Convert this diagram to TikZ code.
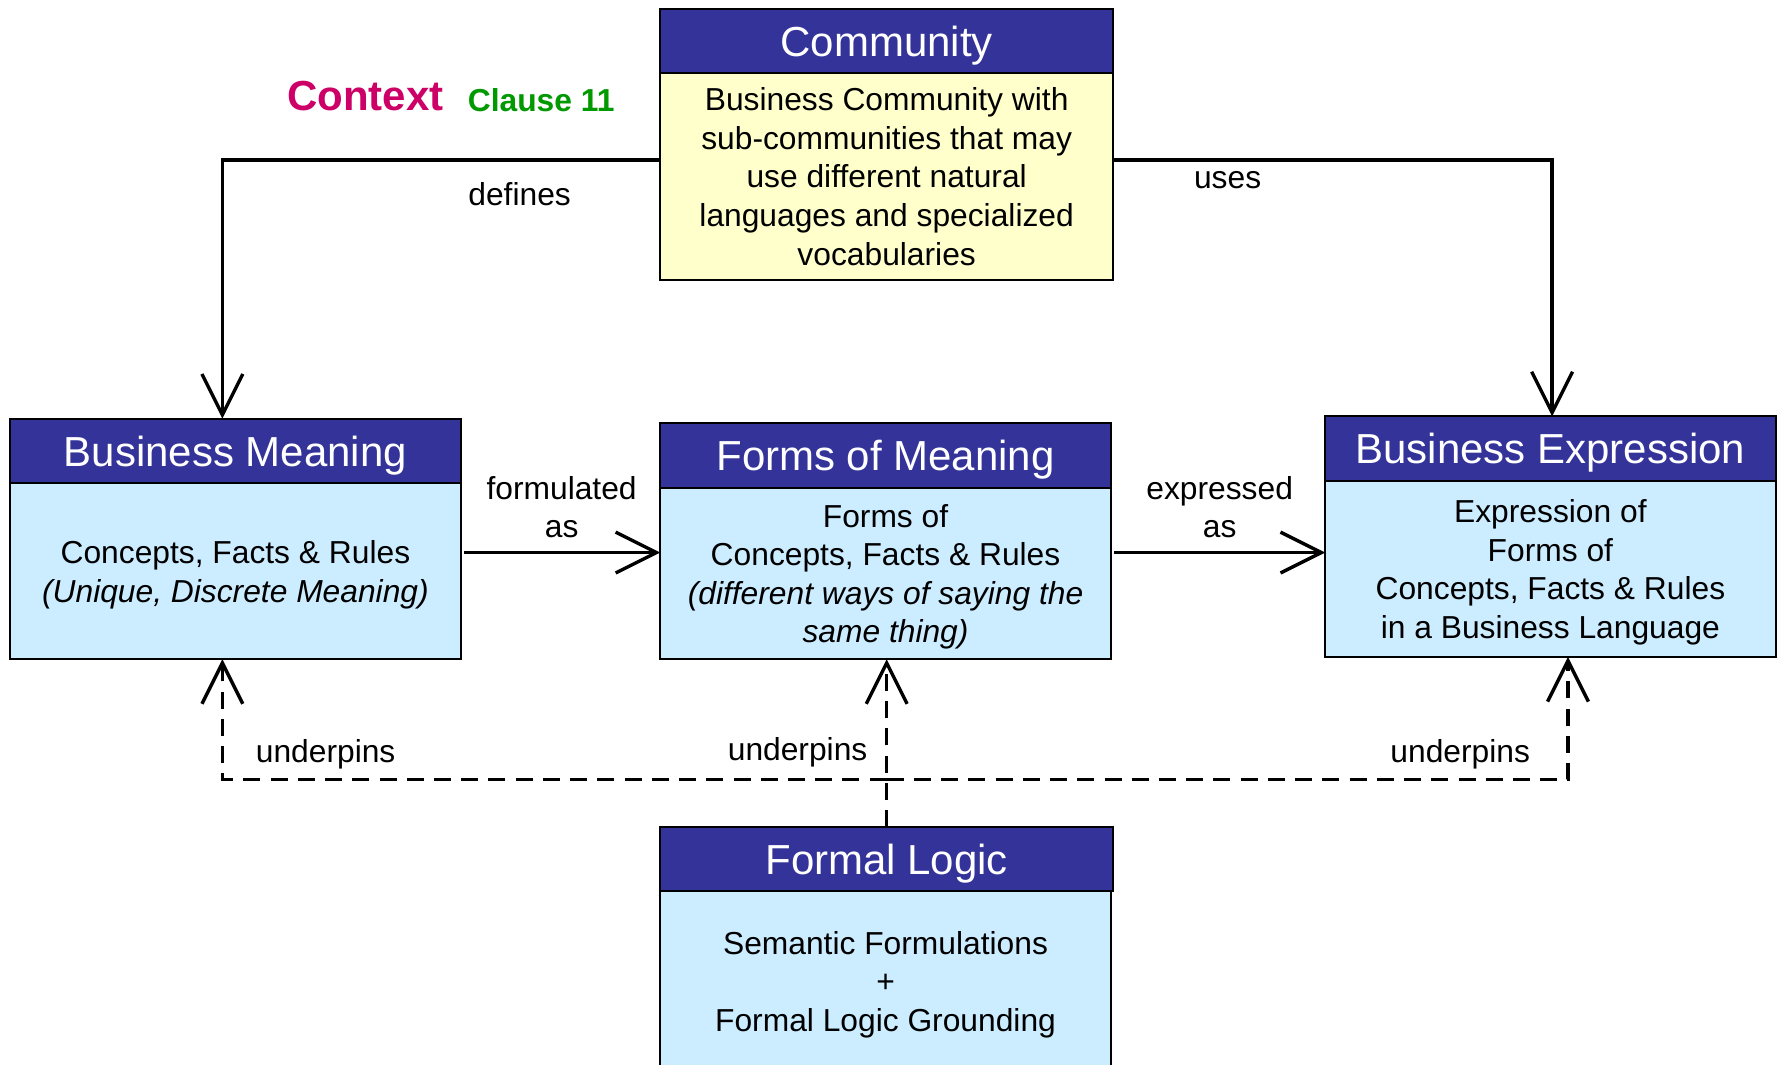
\documentclass[tikz,border=0pt]{standalone}
\usepackage{fontspec}
\setmainfont{Liberation Sans}
\usetikzlibrary{arrows.meta,calc}
\definecolor{hdr}{HTML}{333399}
\definecolor{bodyblue}{HTML}{CCECFF}
\definecolor{bodyyellow}{HTML}{FFFFCC}
\definecolor{ctx}{HTML}{CC0066}
\definecolor{clause}{HTML}{009900}
\newcommand\myhdrfont{\fontsize{37}{44}\selectfont}
\newcommand\mybodyfont{\fontsize{28}{34}\selectfont}
\begin{document}
\begin{tikzpicture}[x=1pt,y=-1pt,
  hdrbox/.style={draw=black,line width=1.8pt,fill=hdr,text=white,font=\myhdrfont,anchor=north west,inner sep=0pt,outer sep=0pt,text depth=0pt},
  bodybox/.style={draw=black,line width=1.8pt,fill=bodyblue,font=\mybodyfont,align=center,anchor=north west,inner sep=0pt,outer sep=0pt,text depth=0pt},
  lbl/.style={font=\mybodyfont,align=center,inner sep=0pt},
  conn/.style={line width=3pt,-{Straight Barb[length=36pt,width=36pt]}},
  dconn/.style={line width=3pt,dash pattern=on 15pt off 9pt,-{Straight Barb[length=36pt,width=36pt]}}]
\path[use as bounding box,clip] (0,0) rectangle (1568,938);
\fill[white] (0,0) rectangle (1568,938);

% Community
\node[bodybox,fill=bodyyellow,minimum width=399pt,minimum height=183pt] (cB) at (582,64)
  {Business Community with\\sub-communities that may\\use different natural\\languages and specialized\\vocabularies};
\node[hdrbox,minimum width=399pt,minimum height=56pt] (cH) at (582,8) {Community};

% Business Meaning
\node[bodybox,minimum width=397pt,minimum height=155pt] (bmB) at (9,426)
  {Concepts, Facts \& Rules\\\textit{(Unique, Discrete Meaning)}};
\node[hdrbox,minimum width=397pt,minimum height=57pt] (bmH) at (9,369) {Business Meaning};

% Forms of Meaning
\node[bodybox,minimum width=397pt,minimum height=151pt] (fmB) at (582,430)
  {Forms of\\Concepts, Facts \& Rules\\\textit{(different ways of saying the}\\\textit{same thing)}};
\node[hdrbox,minimum width=397pt,minimum height=57pt] (fmH) at (582,373) {Forms of Meaning};

% Business Expression
\node[bodybox,minimum width=397pt,minimum height=155pt] (beB) at (1168,424)
  {Expression of\\Forms of\\Concepts, Facts \& Rules\\in a Business Language};
\node[hdrbox,minimum width=397pt,minimum height=57pt] (beH) at (1168,367) {Business Expression};

% Formal Logic
\node[bodybox,minimum width=397pt,minimum height=160pt] (flB) at (582,785)
  {Semantic Formulations\\+\\Formal Logic Grounding};
\node[hdrbox,minimum width=399pt,minimum height=56pt] (flH) at (582,729) {Formal Logic};

% Title
\node[font=\fontsize{37}{44}\selectfont\bfseries,text=ctx,inner sep=0pt] (ctxT) at (322,85) {Context};
\node[font=\fontsize{28}{34}\selectfont\bfseries,text=clause,inner sep=0pt] (clT) at (477,88) {Clause 11};

% Solid connectors
\draw[conn] ($(cB.north west)+(0,77)$) -| ($(bmH.north west)+(187,0)$);
\draw[conn] ($(cB.north east)+(0,77)$) -| ($(beH.north west)+(200,0)$);
\draw[conn] ($(bmB.north east)+(3,61)$) -- ($(fmB.north west)+(0,57)$);
\draw[conn] ($(fmB.north east)+(3,57)$) -- ($(beB.north west)+(0,63)$);

% Dashed connectors
\coordinate (junc) at ($(flH.north)+(0,-42)$);
\draw[dconn] (flH.north) -- (flH.north |- fmB.south);
\draw[dconn] (junc) -| ($(bmB.south west)+(187,0)$);
\draw[dconn] (junc) -| ($(beB.south west)+(214,0)$);

% Labels
\node[lbl] (lDef) at (458,171) {defines};
\node[lbl] (lUse) at (1082,159) {uses};
\node[lbl] (lForm) at (495,447) {formulated\\as};
\node[lbl] (lExp) at (1075,447) {expressed\\as};
\node[lbl] (lU1) at (287,665) {underpins};
\node[lbl] (lU2) at (703,663) {underpins};
\node[lbl] (lU3) at (1287,665) {underpins};
\end{tikzpicture}
\end{document}
